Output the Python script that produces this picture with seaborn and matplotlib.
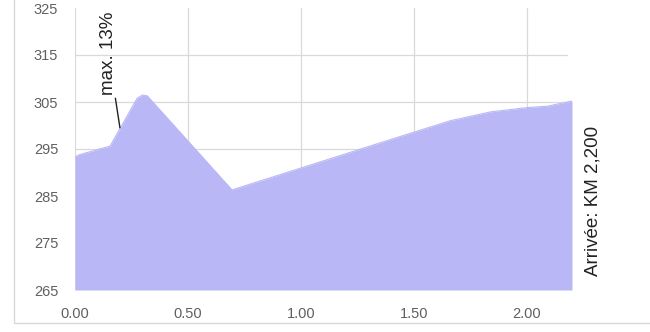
import matplotlib
matplotlib.use("Agg")
import matplotlib.pyplot as plt
from matplotlib.lines import Line2D
import seaborn as sns
import pandas as pd

# Data
dist_km = [0.00, 0.02, 0.155, 0.275, 0.30, 0.32, 0.695, 1.35, 1.66, 1.84, 2.00, 2.09, 2.20]
elev_m = [293.3, 293.8, 295.6, 305.8, 306.5, 306.3, 286.3, 296.3, 301.0, 302.9, 303.8, 304.1, 305.2]
x_ticks = [0.0, 0.5, 1.0, 1.5, 2.0]
x_tick_labels = ["0.00", "0.50", "1.00", "1.50", "2.00"]
y_ticks = [265, 275, 285, 295, 305, 315, 325]
annot_text = "max. 13%"
finish_text = "Arrivée: KM 2,200"

df = pd.DataFrame({"km": dist_km, "elev": elev_m})

sns.set_theme(style="white")
plt.rcParams["font.family"] = ["Liberation Sans", "DejaVu Sans"]

fig = plt.figure(figsize=(6.5, 3.32), dpi=100)
ax = fig.add_axes([75 / 650, 1 - 290 / 332, (572 - 75) / 650, (290 - 8) / 332])

fill_color = "#b9b7f5"
ax.fill_between(df["km"], df["elev"], 265, color=fill_color, linewidth=0, zorder=2)
sns.lineplot(data=df, x="km", y="elev", ax=ax, color=fill_color, linewidth=0.8, zorder=2)

ax.set_xlim(0, 2.2)
ax.set_ylim(265, 325)
ax.set_xticks(x_ticks)
ax.set_xticklabels(x_tick_labels)
ax.set_yticks(y_ticks)
ax.set_yticklabels([str(v) for v in y_ticks])
ax.grid(False)
grid_c = "#d9d9d9"
for v in y_ticks[1:-1]:
    ax.plot([0, 2.18], [v, v], color=grid_c, lw=0.9, zorder=0)
for v in x_ticks:
    ax.plot([v, v], [265, 325], color=grid_c, lw=0.9, zorder=0)
for s in ax.spines.values():
    s.set_visible(False)
ax.tick_params(axis="both", length=0, labelsize=10.5, labelcolor="#606060")
ax.tick_params(axis="x", pad=12)
ax.tick_params(axis="y", pad=12)
ax.set_xlabel("")
ax.set_ylabel("")

ax.annotate(annot_text, xy=(0.199, 299.5), xytext=(0.148, 306.5),
            rotation=90, ha="center", va="bottom", fontsize=13.5, color="#222222",
            arrowprops=dict(arrowstyle="-", color="#222222", lw=1.0,
                            shrinkA=0, shrinkB=0),
            annotation_clip=False)

ax.text(2.292, 283.9, finish_text, rotation=90, ha="center", va="center",
        fontsize=13.5, color="#222222", clip_on=False)

# Chart-area border (left and bottom visible)
bx = 14 / 650
by = 1 - 323 / 332
fig.add_artist(Line2D([bx, bx], [1.01, by], color="#d9d9d9", lw=1.0))
fig.add_artist(Line2D([bx, 1.01], [by, by], color="#d9d9d9", lw=1.0))

fig.savefig("out.png", dpi=100, facecolor="white")
